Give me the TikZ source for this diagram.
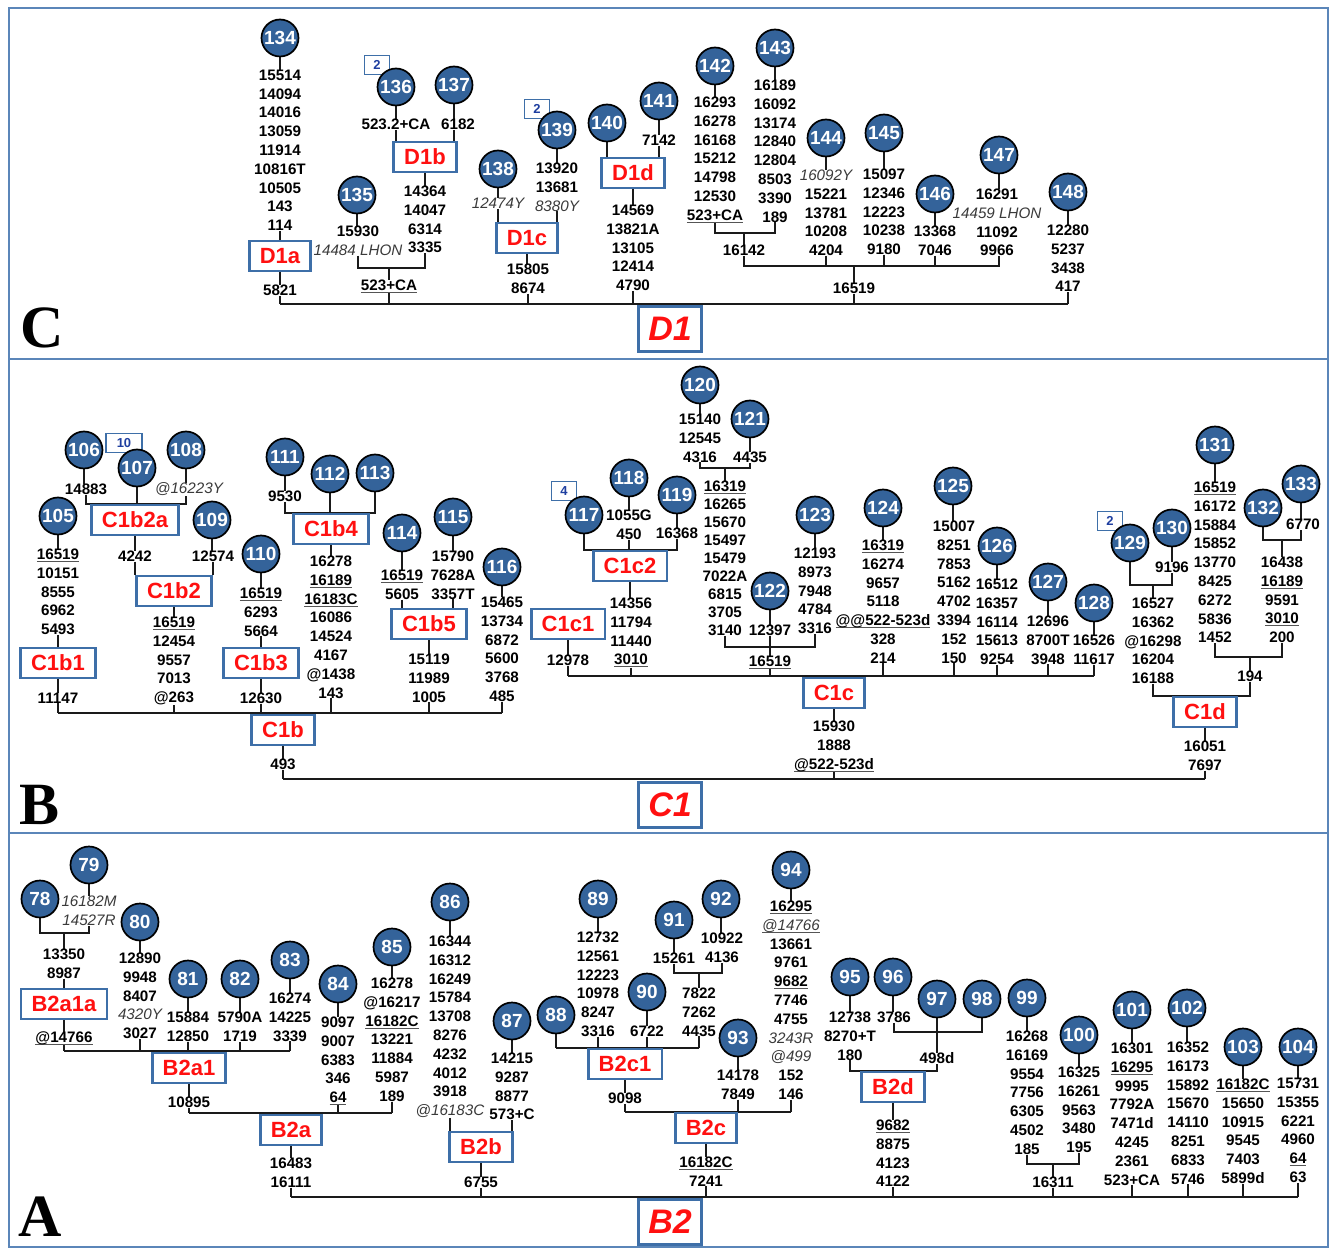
\documentclass[tikz,border=0pt]{standalone}
\usepackage{fontspec}
\setmainfont{Liberation Sans}
\newfontfamily\tnr{Liberation Serif}
\pgfdeclarelayer{bg}
\pgfsetlayers{bg,main}
\definecolor{cfill}{HTML}{34639A}
\definecolor{bblue}{HTML}{3E6FA8}
\definecolor{frm}{HTML}{5B86B9}
\definecolor{hred}{HTML}{FF1010}
\definecolor{cntb}{HTML}{1F3FA0}
\definecolor{itg}{HTML}{3A3A3A}
\definecolor{lk}{HTML}{1A1A1A}
\definecolor{ulg}{HTML}{555555}
\newcommand\myit[1]{{\mdseries\itshape\color{itg}#1}}
\newcommand\myul[1]{\leavevmode\setbox0=\hbox{#1}\rlap{\color{ulg}\rule[-2.6pt]{\wd0}{1.1pt}}\box0}
\newcommand\mystem[2]{\draw[cn] (#1.south) -- (#1.south |- #2.north);}
\newcommand\mydown[2]{\draw[cn] (#1.south) -- (#1.south |- #2);}
\tikzset{
 circ/.style={circle, fill=cfill, draw=black, line width=1.7pt, minimum size=37pt, inner sep=0pt, text=white, font=\bfseries\fontsize{19}{19}\selectfont},
 hg/.style={draw=bblue, line width=2.6pt, fill=white, text=hred, font=\bfseries\fontsize{22}{22}\selectfont, minimum height=30pt, inner xsep=10.5pt, inner ysep=0pt},
 hgbig/.style={draw=bblue, line width=3pt, fill=white, text=hred, font=\bfseries\itshape\fontsize{34}{34}\selectfont, minimum width=63pt, minimum height=45pt, inner sep=0pt},
 ml/.style={anchor=north, align=center, inner sep=0pt, font=\bfseries\fontsize{15.2}{18.8}\selectfont},
 cnt/.style={draw=bblue, line width=1.4pt, fill=white, text=cntb, font=\bfseries\fontsize{13}{13}\selectfont, minimum width=25pt, minimum height=19pt, inner sep=1pt},
 cn/.style={line width=2.1pt, draw=lk},
 frame/.style={line width=2.6pt, draw=frm},
 plab/.style={anchor=base west, inner sep=0pt, font=\tnr\bfseries\fontsize{60}{60}\selectfont},
}
\begin{document}
\begin{tikzpicture}[x=1pt,y=-1pt]
\useasboundingbox (0,0) rectangle (1330,1249);
% ================= PANEL C =================
\node[plab] (pc) at (20,347) {C};
\node[cnt] (n136) at (377,65) {2};
\node[cnt] (n139) at (537,109) {2};
\node[circ] (c134) at (280,38) {134};
\node[circ] (c135) at (357,195) {135};
\node[circ] (c136) at (396,87) {136};
\node[circ] (c137) at (454,85) {137};
\node[circ] (c138) at (498,169) {138};
\node[circ] (c139) at (557,130) {139};
\node[circ] (c140) at (607,123) {140};
\node[circ] (c141) at (659,101) {141};
\node[circ] (c142) at (715,66) {142};
\node[circ] (c143) at (775,48) {143};
\node[circ] (c144) at (826,138) {144};
\node[circ] (c145) at (884,133) {145};
\node[circ] (c146) at (935,194) {146};
\node[circ] (c147) at (999,155) {147};
\node[circ] (c148) at (1068,192) {148};
\node[hg] (d1a) at (280,256) {D1a};
\node[hg] (d1b) at (425,157) {D1b};
\node[hg] (d1c) at (527,238) {D1c};
\node[hg] (d1d) at (633,173) {D1d};
\node[hgbig] (D1) at (670,329) {D1};
\node[ml] (l134) at (280,69.6) {15514\\14094\\14016\\13059\\11914\\10816T\\10505\\143\\114};
\node[ml] (l5821) at (280,284.6) {5821};
\node[ml] (l135) at (358,225.6) {15930\\\myit{14484 LHON}};
\node[ml] (l523) at (389,279.6) {\myul{523+CA}};
\node[ml] (l136) at (396,118.6) {523.2+CA};
\node[ml] (l137) at (458,118.6) {6182};
\node[ml] (ld1b) at (425,185.6) {14364\\14047\\6314\\3335};
\node[ml] (l138) at (498,197.6) {\myit{12474Y}};
\node[ml] (l139) at (557,162.6) {13920\\13681\\\myit{8380Y}};
\node[ml] (ld1c) at (528,263.6) {15805\\8674};
\node[ml] (l141) at (659,134.6) {7142};
\node[ml] (ld1d) at (633,204.6) {14569\\13821A\\13105\\12414\\4790};
\node[ml] (l142) at (715,96.6) {16293\\16278\\16168\\15212\\14798\\12530\\\myul{523+CA}};
\node[ml] (l143) at (775,79.6) {16189\\16092\\13174\\12840\\12804\\8503\\3390\\189};
\node[ml] (l16142) at (744,244.6) {16142};
\node[ml] (l144) at (826,169.6) {\myit{16092Y}\\15221\\13781\\10208\\4204};
\node[ml] (l145) at (884,168.6) {15097\\12346\\12223\\10238\\9180};
\node[ml] (l146) at (935,225.6) {13368\\7046};
\node[ml] (l147) at (997,188.6) {16291\\\myit{14459 LHON}\\11092\\9966};
\node[ml] (l16519) at (854,282.6) {16519};
\node[ml] (l148) at (1068,224.6) {12280\\5237\\3438\\417};
% ================= PANEL B =================
\node[plab] (pb) at (19,824) {B};
\node[cnt, minimum width=36pt] (n107) at (124,443) {10};
\node[cnt] (n117) at (564,491) {4};
\node[cnt] (n129) at (1110,521) {2};
\node[circ] (c105) at (58,516) {105};
\node[circ] (c106) at (84,450) {106};
\node[circ] (c107) at (137,468) {107};
\node[circ] (c108) at (186,450) {108};
\node[circ] (c109) at (212,520) {109};
\node[circ] (c110) at (261,554) {110};
\node[circ] (c111) at (285,457) {111};
\node[circ] (c112) at (330,474) {112};
\node[circ] (c113) at (375,473) {113};
\node[circ] (c114) at (402,533) {114};
\node[circ] (c115) at (453,517) {115};
\node[circ] (c116) at (502,567) {116};
\node[circ] (c117) at (584,515) {117};
\node[circ] (c118) at (629,478) {118};
\node[circ] (c119) at (677,495) {119};
\node[circ] (c120) at (700,385) {120};
\node[circ] (c121) at (750,419) {121};
\node[circ] (c122) at (770,591) {122};
\node[circ] (c123) at (815,515) {123};
\node[circ] (c124) at (883,508) {124};
\node[circ] (c125) at (953,486) {125};
\node[circ] (c126) at (997,546) {126};
\node[circ] (c127) at (1048,582) {127};
\node[circ] (c128) at (1094,603) {128};
\node[circ] (c129) at (1130,543) {129};
\node[circ] (c130) at (1172,528) {130};
\node[circ] (c131) at (1215,445) {131};
\node[circ] (c132) at (1263,508) {132};
\node[circ] (c133) at (1301,484) {133};
\node[hg] (c1b1) at (58,663) {C1b1};
\node[hg] (c1b2) at (174,591) {C1b2};
\node[hg] (c1b2a) at (135,520) {C1b2a};
\node[hg] (c1b3) at (261,663) {C1b3};
\node[hg] (c1b4) at (331,529) {C1b4};
\node[hg] (c1b5) at (429,624) {C1b5};
\node[hg] (c1b) at (283,730) {C1b};
\node[hg] (c1c1) at (568,624) {C1c1};
\node[hg] (c1c2) at (630,566) {C1c2};
\node[hg] (c1c) at (834,693) {C1c};
\node[hg] (c1d) at (1205,712) {C1d};
\node[hgbig] (C1) at (670,805) {C1};
\node[ml] (l105) at (58,548.6) {\myul{16519}\\10151\\8555\\6962\\5493};
\node[ml] (l11147) at (58,692.6) {11147};
\node[ml] (l106) at (86,483.6) {14883};
\node[ml] (l108) at (189,482.6) {\myit{@16223Y}};
\node[ml] (l4242) at (135,550.6) {4242};
\node[ml] (l109) at (213,550.6) {12574};
\node[ml] (lc1b2) at (174,616.6) {\myul{16519}\\12454\\9557\\7013\\@263};
\node[ml] (l110) at (261,587.6) {\myul{16519}\\6293\\5664};
\node[ml] (l12630) at (261,692.6) {12630};
\node[ml] (l111) at (285,490.6) {9530};
\node[ml] (lc1b4) at (331,555.6) {16278\\\myul{16189}\\\myul{16183C}\\16086\\14524\\4167\\@1438\\143};
\node[ml] (l114) at (402,569.6) {\myul{16519}\\5605};
\node[ml] (l115) at (453,550.6) {15790\\7628A\\3357T};
\node[ml] (lc1b5) at (429,653.6) {15119\\11989\\1005};
\node[ml] (l116) at (502,596.6) {15465\\13734\\6872\\5600\\3768\\485};
\node[ml] (l493) at (283,758.6) {493};
\node[ml] (l12978) at (568,654.6) {12978};
\node[ml] (l118) at (629,509.6) {1055G\\450};
\node[ml] (l119) at (677,527.6) {16368};
\node[ml] (lc1c2) at (631,597.6) {14356\\11794\\11440\\\myul{3010}};
\node[ml] (l120) at (700,413.6) {15140\\12545\\4316};
\node[ml] (l121) at (750,451.6) {4435};
\node[ml, font=\bfseries\fontsize{15.2}{18}\selectfont] (l725) at (725,480.6) {\myul{16319}\\16265\\15670\\15497\\15479\\7022A\\6815\\3705\\3140};
\node[ml] (l122) at (770,624.6) {12397};
\node[ml] (l123) at (815,547.6) {12193\\8973\\7948\\4784\\3316};
\node[ml] (l16519c) at (770,655.6) {\myul{16519}};
\node[ml] (l124) at (883,539.6) {\myul{16319}\\16274\\9657\\5118\\\myul{@@522-523d}\\328\\214};
\node[ml] (l125) at (954,520.6) {15007\\8251\\7853\\5162\\4702\\3394\\152\\150};
\node[ml] (l126) at (997,578.6) {16512\\16357\\16114\\15613\\9254};
\node[ml] (l127) at (1048,615.6) {12696\\8700T\\3948};
\node[ml] (l128) at (1094,634.6) {16526\\11617};
\node[ml] (lc1c) at (834,720.6) {15930\\1888\\\myul{@522-523d}};
\node[ml] (l130) at (1172,561.6) {9196};
\node[ml] (l1153) at (1153,597.6) {16527\\16362\\@16298\\16204\\16188};
\node[ml] (l131) at (1215,481.6) {\myul{16519}\\16172\\15884\\15852\\13770\\8425\\6272\\5836\\1452};
\node[ml] (l133) at (1303,518.6) {6770};
\node[ml] (l1282) at (1282,556.6) {16438\\\myul{16189}\\9591\\\myul{3010}\\200};
\node[ml] (l194) at (1250,670.6) {194};
\node[ml] (lc1d) at (1205,740.6) {16051\\7697};
% ================= PANEL A =================
\node[plab] (pa) at (18,1236) {A};
\node[circ] (c78) at (40,899) {78};
\node[circ] (c79) at (89,865) {79};
\node[circ] (c80) at (140,922) {80};
\node[circ] (c81) at (188,979) {81};
\node[circ] (c82) at (240,979) {82};
\node[circ] (c83) at (290,960) {83};
\node[circ] (c84) at (338,984) {84};
\node[circ] (c85) at (392,947) {85};
\node[circ] (c86) at (450,902) {86};
\node[circ] (c87) at (512,1021) {87};
\node[circ] (c88) at (556,1015) {88};
\node[circ] (c89) at (598,899) {89};
\node[circ] (c90) at (647,992) {90};
\node[circ] (c91) at (674,920) {91};
\node[circ] (c92) at (721,899) {92};
\node[circ] (c93) at (738,1038) {93};
\node[circ] (c94) at (791,870) {94};
\node[circ] (c95) at (850,977) {95};
\node[circ] (c96) at (893,977) {96};
\node[circ] (c97) at (937,999) {97};
\node[circ] (c98) at (982,999) {98};
\node[circ] (c99) at (1027,998) {99};
\node[circ] (c100) at (1079,1035) {100};
\node[circ] (c101) at (1132,1010) {101};
\node[circ] (c102) at (1187,1008) {102};
\node[circ] (c103) at (1243,1047) {103};
\node[circ] (c104) at (1298,1047) {104};
\node[hg] (b2a1a) at (64,1004) {B2a1a};
\node[hg] (b2a1) at (189,1068) {B2a1};
\node[hg] (b2a) at (291,1130) {B2a};
\node[hg] (b2b) at (481,1147) {B2b};
\node[hg] (b2c1) at (625,1064) {B2c1};
\node[hg] (b2c) at (706,1128) {B2c};
\node[hg] (b2d) at (893,1087) {B2d};
\node[hgbig] (B2) at (670,1222) {B2};
\node[ml] (l79) at (89,895.6) {\myit{16182M}\\\myit{14527R}};
\node[ml] (l64) at (64,948.6) {13350\\8987};
\node[ml] (l14766) at (64,1031.6) {\myul{@14766}};
\node[ml] (l80) at (140,952.6) {12890\\9948\\8407\\\myit{4320Y}\\3027};
\node[ml] (l81) at (188,1011.6) {15884\\12850};
\node[ml] (l82) at (240,1011.6) {5790A\\1719};
\node[ml] (l83) at (290,992.6) {16274\\14225\\3339};
\node[ml] (l10895) at (189,1096.6) {10895};
\node[ml] (l84) at (338,1016.6) {9097\\9007\\6383\\346\\\myul{64}};
\node[ml] (l85) at (392,977.6) {16278\\@16217\\\myul{16182C}\\13221\\11884\\5987\\189};
\node[ml] (lb2a) at (291,1157.6) {16483\\16111};
\node[ml] (l86) at (450,935.6) {16344\\16312\\16249\\15784\\13708\\8276\\4232\\4012\\3918\\\myit{@16183C}};
\node[ml] (l87) at (512,1052.6) {14215\\9287\\8877\\573+C};
\node[ml] (l6755) at (481,1176.6) {6755};
\node[ml] (l89) at (598,931.6) {12732\\12561\\12223\\10978\\8247\\3316};
\node[ml] (l90) at (647,1025.6) {6722};
\node[ml] (l91) at (674,952.6) {15261};
\node[ml] (l92) at (722,932.6) {10922\\4136};
\node[ml] (l699) at (699,987.6) {7822\\7262\\4435};
\node[ml] (l9098) at (625,1092.6) {9098};
\node[ml] (l93) at (738,1069.6) {14178\\7849};
\node[ml] (l94) at (791,900.6) {\myul{16295}\\\myul{\myit{@14766}}\\13661\\9761\\\myul{9682}\\7746\\4755\\\myit{3243R}\\\myit{@499}\\152\\146};
\node[ml] (lb2c) at (706,1156.6) {\myul{16182C}\\7241};
\node[ml] (l95) at (850,1011.6) {12738\\8270+T\\180};
\node[ml] (l96) at (894,1011.6) {3786};
\node[ml] (l498) at (937,1052.6) {498d};
\node[ml] (lb2d) at (893,1119.6) {\myul{9682}\\8875\\4123\\4122};
\node[ml] (l99) at (1027,1030.6) {16268\\16169\\9554\\7756\\6305\\4502\\185};
\node[ml] (l100) at (1079,1066.6) {16325\\16261\\9563\\3480\\195};
\node[ml] (l16311) at (1053,1176.6) {16311};
\node[ml] (l101) at (1132,1042.6) {16301\\\myul{16295}\\9995\\7792A\\7471d\\4245\\2361\\523+CA};
\node[ml] (l102) at (1188,1041.6) {16352\\16173\\15892\\15670\\14110\\8251\\6833\\5746};
\node[ml] (l103) at (1243,1078.6) {\myul{16182C}\\15650\\10915\\9545\\7403\\5899d};
\node[ml] (l104) at (1298,1077.6) {15731\\15355\\6221\\4960\\\myul{64}\\63};
% ================= CONNECTORS =================
\begin{pgfonlayer}{bg}
\draw[frame] (9,8) rectangle (1328,1247);
\draw[frame] (9,359) -- (1328,359);
\draw[frame] (9,833) -- (1328,833);
\coordinate (hD1) at (0,304);
\coordinate (hC1) at (0,268);
\coordinate (hC2) at (0,233);
\coordinate (hC3) at (0,266);
% panel C
\draw[cn] (l5821.south |- hD1) -- (l148.south |- hD1);
\mystem{c134}{l134}
\mydown{l134}{d1a.north}
\mystem{d1a}{l5821}
\mydown{l5821}{hD1}
\mystem{c135}{l135}
\draw[cn] (l135.south) |- (ld1b.south |- hC1) -- (ld1b.south);
\draw[cn] (l523.north |- hC1) -- (l523.north);
\mydown{l523}{hD1}
\mystem{c136}{l136}
\mydown{l136}{d1b.north}
\mystem{c137}{l137}
\draw[cn] (c137.south |- l137.south) -- (c137.south |- d1b.north);
\mystem{d1b}{ld1b}
\mystem{c138}{l138}
\mydown{l138}{d1c.north}
\mystem{c139}{l139}
\mydown{l139}{d1c.north}
\mystem{d1c}{ld1c}
\mydown{ld1c}{hD1}
\mystem{c140}{d1d}
\mystem{c141}{l141}
\mydown{l141}{d1d.north}
\mystem{d1d}{ld1d}
\mydown{ld1d}{hD1}
\mystem{c142}{l142}
\mystem{c143}{l143}
\draw[cn] (l142.south) |- (l143.south |- hC2) -- (l143.south);
\draw[cn] (l16142.north |- hC2) -- (l16142.north);
\draw[cn] (l16142.south) -- (l16142.south |- hC3) -- (c147.south |- hC3) -- (c147.south |- l147.south);
\mystem{c144}{l144} \mydown{l144}{hC3}
\mystem{c145}{l145} \mydown{l145}{hC3}
\mystem{c146}{l146} \mydown{l146}{hC3}
\mystem{c147}{l147}
\draw[cn] (l16519.north |- hC3) -- (l16519.north);
\mydown{l16519}{hD1}
\mystem{c148}{l148}
\mydown{l148}{hD1}
% panel B
\coordinate (hC1b) at (0,713);
\coordinate (hCC) at (0,779);
\coordinate (hC1c) at (0,676);
\coordinate (hB1) at (0,468);
\coordinate (hB2) at (0,647);
\coordinate (hB3) at (0,585);
\coordinate (hB4) at (0,657);
\coordinate (hB5) at (0,540);
\mystem{c105}{l105} \mydown{l105}{c1b1.north} \mystem{c1b1}{l11147} \mydown{l11147}{hC1b}
\mystem{c106}{l106}
\draw[cn] (l106.south) |- (c108.south |- c1b2a.north) -- (c108.south |- l108.south);
\mystem{c107}{c1b2a}
\mystem{c108}{l108}
\mystem{c1b2a}{l4242} \mydown{l4242}{c1b2.north}
\mystem{c109}{l109} \mydown{l109}{c1b2.north}
\mystem{c1b2}{lc1b2} \mydown{lc1b2}{hC1b}
\mystem{c110}{l110} \mydown{l110}{c1b3.north} \mystem{c1b3}{l12630} \mydown{l12630}{hC1b}
\mystem{c111}{l111}
\draw[cn] (l111.south) |- (c113.south |- c1b4.north) -- (c113.south);
\mystem{c112}{c1b4}
\mystem{c1b4}{lc1b4} \mydown{lc1b4}{hC1b}
\mystem{c114}{l114} \mydown{l114}{c1b5.north}
\mystem{c115}{l115} \mydown{l115}{c1b5.north}
\mystem{c1b5}{lc1b5} \mydown{lc1b5}{hC1b}
\mystem{c116}{l116} \mydown{l116}{hC1b}
\draw[cn] (l11147.south |- hC1b) -- (l116.south |- hC1b);
\mystem{c1b}{l493} \mydown{l493}{hCC}
\draw[cn] (l493.south |- hCC) -- (lc1d.south |- hCC);
\mystem{c1c1}{l12978} \mydown{l12978}{hC1c}
\draw[cn] (c117.south) |- (c119.south |- c1c2.north) -- (c119.south |- l119.south);
\mystem{c118}{l118} \mydown{l118}{c1c2.north}
\mystem{c119}{l119}
\mystem{c1c2}{lc1c2} \mydown{lc1c2}{hC1c}
\mystem{c120}{l120} \mystem{c121}{l121}
\draw[cn] (l120.south) |- (l121.south |- hB1) -- (l121.south);
\draw[cn] (l725.north |- hB1) -- (l725.north);
\draw[cn] (l725.south) |- (l123.south |- hB2) -- (l123.south);
\mystem{c122}{l122} \mydown{l122}{l16519c.north}
\mystem{c123}{l123}
\mydown{l16519c}{hC1c}
\mystem{c124}{l124} \mydown{l124}{hC1c}
\mystem{c125}{l125} \mydown{l125}{hC1c}
\mystem{c126}{l126} \mydown{l126}{hC1c}
\mystem{c127}{l127} \mydown{l127}{hC1c}
\mystem{c128}{l128} \mydown{l128}{hC1c}
\draw[cn] (l12978.south |- hC1c) -- (l128.south |- hC1c);
\mystem{c1c}{lc1c} \mydown{lc1c}{hCC}
\mystem{c130}{l130}
\draw[cn] (c129.south) |- (c130.south |- hB3) -- (c130.south |- l130.south);
\draw[cn] (l1153.north |- hB3) -- (l1153.north);
\draw[cn] (l1153.south) |- (l194.south |- c1d.north) -- (l194.south);
\mystem{c131}{l131}
\draw[cn] (l131.south) |- (l1282.south |- hB4) -- (l1282.south);
\draw[cn] (l194.north |- hB4) -- (l194.north);
\mystem{c133}{l133}
\draw[cn] (c132.south) |- (c133.south |- hB5) -- (c133.south |- l133.south);
\draw[cn] (l1282.north |- hB5) -- (l1282.north);
\mystem{c1d}{lc1d} \mydown{lc1d}{hCC}
% panel A
\coordinate (hBB) at (0,1197);
\coordinate (hA1) at (0,1051);
\coordinate (hA2) at (0,1113);
\coordinate (hA3) at (0,933);
\coordinate (hA4) at (0,1048);
\coordinate (hA5) at (0,973);
\coordinate (hA6) at (0,1112);
\coordinate (hA7) at (0,1032);
\coordinate (hA8) at (0,1164);
\mystem{c79}{l79}
\draw[cn] (c78.south) |- (l79.south |- hA3) -- (l79.south);
\draw[cn] (l64.north |- hA3) -- (l64.north);
\mydown{l64}{b2a1a.north}
\mystem{b2a1a}{l14766} \mydown{l14766}{hA1}
\mystem{c80}{l80} \mydown{l80}{hA1}
\mystem{c81}{l81} \mydown{l81}{hA1}
\mystem{c82}{l82} \mydown{l82}{hA1}
\mystem{c83}{l83} \mydown{l83}{hA1}
\draw[cn] (l14766.south |- hA1) -- (l83.south |- hA1);
\mystem{b2a1}{l10895} \mydown{l10895}{hA2}
\mystem{c84}{l84} \mydown{l84}{hA2}
\mystem{c85}{l85} \mydown{l85}{hA2}
\draw[cn] (l10895.south |- hA2) -- (l85.south |- hA2);
\mystem{b2a}{lb2a} \mydown{lb2a}{hBB}
\mystem{c86}{l86} \mydown{l86}{b2b.north}
\mystem{c87}{l87} \mydown{l87}{b2b.north}
\mystem{b2b}{l6755} \mydown{l6755}{hBB}
\mydown{c88}{hA4}
\mystem{c89}{l89} \mydown{l89}{hA4}
\mystem{c90}{l90} \mydown{l90}{hA4}
\mystem{c91}{l91} \mystem{c92}{l92}
\draw[cn] (l91.south) |- (l92.south |- hA5) -- (l92.south);
\draw[cn] (l699.north |- hA5) -- (l699.north);
\mydown{l699}{hA4}
\draw[cn] (c88.south |- hA4) -- (l699.south |- hA4);
\mystem{b2c1}{l9098} \mydown{l9098}{hA6}
\mystem{c93}{l93} \mydown{l93}{hA6}
\mystem{c94}{l94} \mydown{l94}{hA6}
\draw[cn] (l9098.south |- hA6) -- (l94.south |- hA6);
\mystem{b2c}{lb2c} \mydown{lb2c}{hBB}
\mystem{c95}{l95}
\draw[cn] (l95.south) |- (l498.south |- b2d.north) -- (l498.south);
\mystem{c96}{l96}
\draw[cn] (l96.south) |- (c98.south |- hA7) -- (c98.south);
\mystem{c97}{l498}
\mystem{b2d}{lb2d} \mydown{lb2d}{hBB}
\mystem{c99}{l99} \mystem{c100}{l100}
\draw[cn] (l99.south) |- (l100.south |- hA8) -- (l100.south);
\draw[cn] (l16311.north |- hA8) -- (l16311.north);
\mydown{l16311}{hBB}
\mystem{c101}{l101} \mydown{l101}{hBB}
\mystem{c102}{l102} \mydown{l102}{hBB}
\mystem{c103}{l103} \mydown{l103}{hBB}
\mystem{c104}{l104} \mydown{l104}{hBB}
\draw[cn] (lb2a.south |- hBB) -- (l104.south |- hBB);
\end{pgfonlayer}
\end{tikzpicture}
\end{document}
